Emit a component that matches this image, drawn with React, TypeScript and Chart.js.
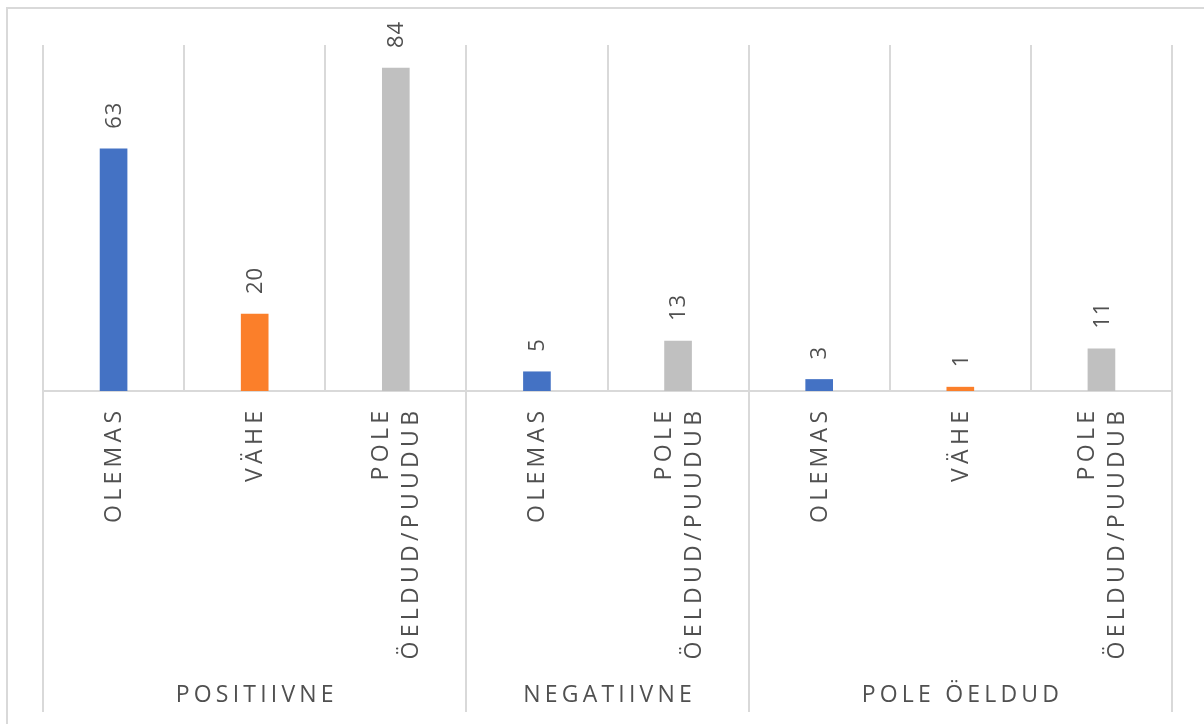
import React, { useEffect, useRef } from "react";
import { Chart, registerables } from "chart.js";

Chart.register(...registerables);

// Answer categories on the x axis (multi-line labels are arrays)
const categories: (string | string[])[] = [
  "OLEMAS",
  "VÄHE",
  ["POLE", "ÖELDUD/PUUDUB"],
  "OLEMAS",
  ["POLE", "ÖELDUD/PUUDUB"],
  "OLEMAS",
  "VÄHE",
  ["POLE", "ÖELDUD/PUUDUB"],
];

// Count per category
const values = [63, 20, 84, 5, 13, 3, 1, 11];

// Outer grouping of the categories
const groupNames = ["POSITIIVNE", "NEGATIIVNE", "POLE ÖELDUD"];
const groupSizes = [3, 2, 3];

const FONT = "'Open Sans', 'DejaVu Sans', sans-serif";
const TEXT = "#505050";
const GRID = "#d9d9d9";

function colorFor(label: string | string[]): string {
  const key = Array.isArray(label) ? label.join(" ") : label;
  if (key === "OLEMAS") return "#4472c4";
  if (key === "VÄHE") return "#fb7f2a";
  return "#c0c0c0";
}

const decorations = {
  id: "decorations",
  beforeDatasetsDraw(chart: any) {
    const { ctx, chartArea, scales } = chart;
    const x = scales.x;
    const y = scales.y;
    const base = Math.round(y.getPixelForValue(0));
    const step = x.getPixelForValue(1) - x.getPixelForValue(0);
    ctx.save();
    ctx.strokeStyle = GRID;
    ctx.lineWidth = 2;
    // category axis line
    ctx.beginPath();
    ctx.moveTo(chartArea.left, base);
    ctx.lineTo(chartArea.right, base);
    ctx.stroke();
    // group separators reaching down through the label area
    let idx = 0;
    const edges: number[] = [x.getPixelForValue(0) - step / 2];
    groupSizes.forEach((n) => {
      idx += n;
      edges.push(x.getPixelForValue(idx - 1) + step / 2);
    });
    edges.forEach((e) => {
      const px = Math.round(e);
      ctx.beginPath();
      ctx.moveTo(px, base);
      ctx.lineTo(px, 712);
      ctx.stroke();
    });
    ctx.restore();
  },
  afterDatasetsDraw(chart: any) {
    const { ctx, scales } = chart;
    const x = scales.x;
    const y = scales.y;
    const base = y.getPixelForValue(0);
    const step = x.getPixelForValue(1) - x.getPixelForValue(0);
    ctx.save();
    ctx.fillStyle = TEXT;

    // value labels above the bars, rotated
    ctx.font = `22px ${FONT}`;
    (ctx as any).letterSpacing = "1px";
    values.forEach((v, i) => {
      const cx = x.getPixelForValue(i);
      const top = y.getPixelForValue(v);
      ctx.save();
      ctx.translate(cx + 1, top - 20);
      ctx.rotate(-Math.PI / 2);
      ctx.textAlign = "left";
      ctx.textBaseline = "middle";
      ctx.fillText(String(v), 0, 0);
      ctx.restore();
    });

    // category labels, rotated, ending just under the axis
    ctx.font = `23px ${FONT}`;
    const catSpacing = 4.3;
    (ctx as any).letterSpacing = `${catSpacing}px`;
    const lineGap = 30;
    categories.forEach((lab, i) => {
      const lines = Array.isArray(lab) ? lab : [lab];
      const cx = x.getPixelForValue(i);
      ctx.save();
      ctx.translate(cx, base + 20);
      ctx.rotate(-Math.PI / 2);
      ctx.textAlign = "right";
      ctx.textBaseline = "middle";
      lines.forEach((ln, j) => {
        const off = (j - (lines.length - 1) / 2) * lineGap;
        ctx.fillText(ln, catSpacing, off + 1);
      });
      ctx.restore();
    });

    // group labels along the bottom
    const grpSpacing = 4.2;
    (ctx as any).letterSpacing = `${grpSpacing}px`;
    ctx.textAlign = "center";
    ctx.textBaseline = "middle";
    let start = 0;
    groupNames.forEach((g, k) => {
      const n = groupSizes[k];
      const left = x.getPixelForValue(start) - step / 2;
      const right = x.getPixelForValue(start + n - 1) + step / 2;
      ctx.fillText(g, (left + right) / 2 + grpSpacing / 2, 695);
      start += n;
    });
    ctx.restore();
  },
  afterDraw(chart: any) {
    const { ctx } = chart;
    ctx.save();
    ctx.fillStyle = GRID;
    ctx.fillRect(6, 7, 1198, 2);
    ctx.fillRect(6, 7, 2, 717);
    ctx.restore();
  },
};

export default function App() {
  const ref = useRef<HTMLCanvasElement | null>(null);

  useEffect(() => {
    if (!ref.current) return;
    const chart = new Chart(ref.current, {
      type: "bar",
      data: {
        labels: categories,
        datasets: [
          {
            data: values,
            backgroundColor: categories.map(colorFor),
            barThickness: 27,
            borderWidth: 0,
          },
        ],
      },
      options: {
        responsive: false,
        animation: false,
        events: [],
        layout: { padding: { left: 43, right: 32, top: 45, bottom: 333 } },
        plugins: {
          legend: { display: false },
          tooltip: { enabled: false },
          title: { display: false },
        },
        scales: {
          x: {
            offset: true,
            ticks: { display: false },
            border: { display: false },
            grid: {
              offset: true,
              color: GRID,
              lineWidth: 2,
              drawTicks: false,
            },
          },
          y: {
            display: false,
            min: 0,
            max: 90,
          },
        },
      },
      plugins: [decorations],
    });
    return () => chart.destroy();
  }, []);

  return (
    <div style={{ position: "absolute", left: 0, top: 0, width: 1204, height: 724, background: "#fff" }}>
      <canvas ref={ref} width={1204} height={724} style={{ display: "block" }} />
    </div>
  );
}
